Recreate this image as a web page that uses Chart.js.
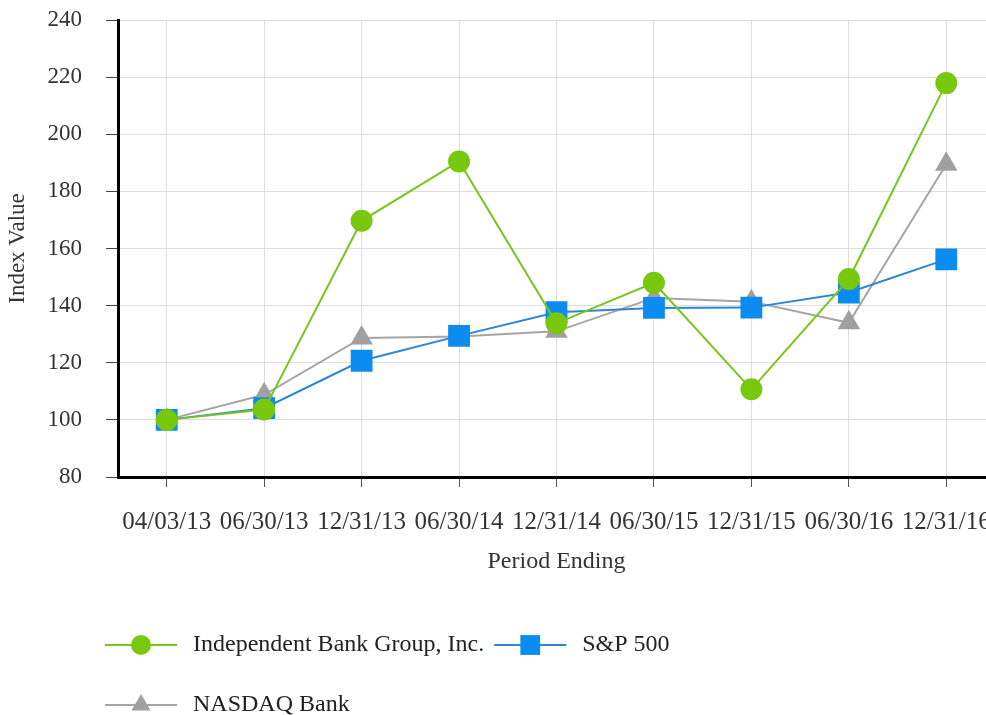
<!DOCTYPE html>
<html>
<head>
<meta charset="utf-8">
<script src="https://cdn.jsdelivr.net/npm/chart.js@4.4.0/dist/chart.umd.min.js"></script>
<style>
  html, body { margin: 0; padding: 0; background: #fff; overflow: hidden; }
  #wrap { position: absolute; left: 0; top: 0; width: 1000px; height: 730px; }
</style>
</head>
<body>
<div id="wrap"><canvas id="chart" width="1000" height="730"></canvas></div>
<script>
// Données
const periods = ['04/03/13', '06/30/13', '12/31/13', '06/30/14', '12/31/14', '06/30/15', '12/31/15', '06/30/16', '12/31/16'];
const ibtxValues = [100, 103.6, 169.7, 190.5, 133.8, 148.0, 110.7, 149.3, 217.9];
const sp500Values = [100, 104.1, 120.7, 129.4, 137.7, 139.2, 139.3, 144.6, 156.2];
const nasdaqBankValues = [100, 108.8, 128.7, 129.2, 131.0, 142.7, 141.4, 134.0, 189.5];
const yTicks = [80, 100, 120, 140, 160, 180, 200, 220, 240];

const FONT = '"Liberation Serif", "Times New Roman", serif';

// Légende maison : trait + marqueur, comme sur l'original
const lineLegend = {
  id: 'lineLegend',
  afterDraw(chart) {
    const ctx = chart.ctx;
    let x = 105;
    let y = 645;
    ctx.save();
    ctx.font = '24px ' + FONT;
    ctx.textBaseline = 'middle';
    chart.data.datasets.forEach(ds => {
      const textW = ctx.measureText(ds.label).width;
      if (x > 105 && x + 88 + textW > 760) {
        x = 105;
        y += 60;
      }
      ctx.strokeStyle = ds.borderColor;
      ctx.lineWidth = 2;
      ctx.beginPath();
      ctx.moveTo(x, y);
      ctx.lineTo(x + 72, y);
      ctx.stroke();
      ctx.fillStyle = ds.pointBackgroundColor;
      ctx.strokeStyle = ds.pointBackgroundColor;
      Chart.helpers.drawPoint(ctx, {
        pointStyle: ds.pointStyle,
        radius: ds.pointRadius,
        rotation: 0,
        borderWidth: 0
      }, x + 36, y);
      ctx.fillStyle = '#222';
      ctx.fillText(ds.label, x + 88, y);
      x += 88 + textW + 10;
    });
    ctx.restore();
  }
};

const ctx = document.getElementById('chart').getContext('2d');
new Chart(ctx, {
  type: 'line',
  data: {
    labels: periods,
    datasets: [
      {
        label: 'Independent Bank Group, Inc.',
        data: ibtxValues,
        borderColor: '#7ac51c',
        backgroundColor: '#78c80e',
        pointBackgroundColor: '#78c80e',
        pointBorderColor: '#78c80e',
        pointStyle: 'circle',
        pointRadius: 10,
        borderWidth: 2,
        tension: 0
      },
      {
        label: 'S&P 500',
        data: sp500Values,
        borderColor: '#2b86d6',
        backgroundColor: '#0b8cf0',
        pointBackgroundColor: '#0b8cf0',
        pointBorderColor: '#0b8cf0',
        pointStyle: 'rect',
        pointRadius: 14,
        borderWidth: 2,
        tension: 0
      },
      {
        label: 'NASDAQ Bank',
        data: nasdaqBankValues,
        borderColor: '#a5a5a5',
        backgroundColor: '#a0a0a0',
        pointBackgroundColor: '#a0a0a0',
        pointBorderColor: '#a0a0a0',
        pointStyle: 'triangle',
        pointRadius: 11,
        borderWidth: 2,
        tension: 0
      }
    ]
  },
  options: {
    responsive: false,
    animation: false,
    events: [],
    layout: { autoPadding: false, padding: { top: 20, right: 5, bottom: 153, left: 0 } },
    plugins: {
      legend: { display: false },
      tooltip: { enabled: false }
    },
    scales: {
      x: {
        type: 'category',
        offset: true,
        grid: { color: '#dddddd', lineWidth: 1, tickLength: 10, tickColor: '#555', offset: false },
        border: { color: '#000', width: 3 },
        ticks: {
          font: { family: FONT, size: 25 },
          color: '#333',
          padding: 20,
          maxRotation: 0,
          autoSkip: false
        },
        title: {
          display: true,
          text: 'Period Ending',
          font: { family: FONT, size: 24 },
          color: '#333',
          padding: { top: 0, bottom: 1 }
        },
        afterFit(scale) {
          scale.height = 100;
          scale.paddingLeft = 0;
          scale.paddingRight = 0;
        }
      },
      y: {
        min: 80,
        max: 240,
        afterBuildTicks(scale) {
          scale.ticks = yTicks.map(v => ({ value: v }));
        },
        grid: { color: '#dddddd', lineWidth: 1, tickLength: 12, tickColor: '#444' },
        border: { color: '#000', width: 3 },
        ticks: {
          font: { family: FONT, size: 23 },
          color: '#333',
          padding: 24
        },
        title: {
          display: true,
          text: 'Index Value',
          font: { family: FONT, size: 23 },
          color: '#333',
          padding: { top: 4, bottom: 0 }
        },
        afterFit(scale) {
          scale.width = 118;
          scale.paddingTop = 0;
          scale.paddingBottom = 0;
        }
      }
    }
  },
  plugins: [lineLegend]
});
</script>
</body>
</html>
